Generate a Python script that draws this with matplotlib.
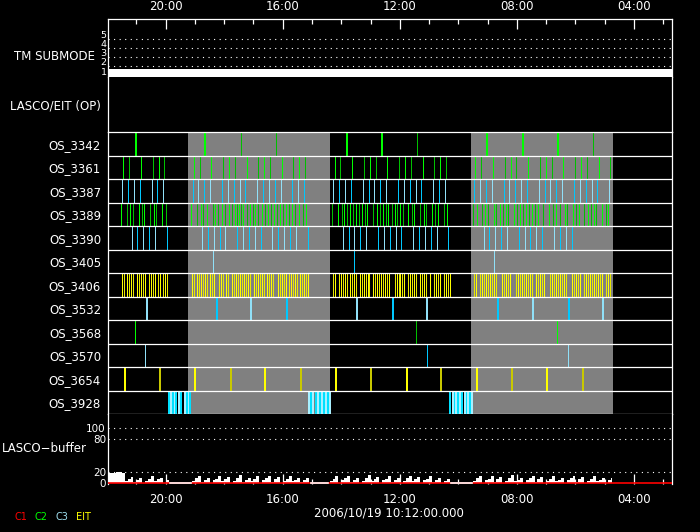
import numpy as np
import matplotlib
matplotlib.use('Agg')
import matplotlib.pyplot as plt
from matplotlib.ticker import MultipleLocator, FuncFormatter

# time runs backwards (decimal hours of the day)
t_start = 21.97
t_end = 2.72
gray_spans = [(19.24, 14.40), (9.57, 4.73)]

tm_times = [21.97, 2.72]
tm_mode = [1, 1]

os_names = ['OS_3342', 'OS_3361', 'OS_3387', 'OS_3389', 'OS_3390', 'OS_3405',
            'OS_3406', 'OS_3532', 'OS_3568', 'OS_3570', 'OS_3654', 'OS_3928']

os_3342_wide = [21.03, 18.64, 13.82, 12.62, 9.01, 7.80, 6.61]
os_3342_thin = [17.41, 16.22, 11.41, 5.40]

os_3361 = [21.45, 21.24, 20.83, 20.42, 20.22, 20.05, 19.02, 18.82, 18.44, 18.03,
           17.83, 17.62, 17.21, 16.84, 16.63, 16.43, 16.02, 15.64, 15.44, 15.23,
           14.21, 14.04, 13.63, 13.22, 13.01, 12.81, 12.43, 12.02, 11.82, 11.61,
           11.20, 10.83, 10.62, 10.42, 9.43, 9.22, 8.81, 8.40, 8.20, 8.03,
           7.62, 7.21, 7.00, 6.80, 6.42, 6.01, 5.81, 5.60, 5.19, 4.82]

os_3387 = [21.48, 21.28, 21.07, 20.87, 20.46, 20.29, 20.08, 19.06, 18.89, 18.68,
           18.48, 18.07, 17.86, 17.66, 17.45, 17.28, 16.87, 16.67, 16.46, 16.26,
           16.05, 15.68, 15.47, 15.27, 14.28, 14.07, 13.87, 13.66, 13.25, 13.05,
           12.88, 12.67, 12.47, 12.06, 11.85, 11.65, 11.44, 11.27, 10.86, 10.66,
           10.45, 9.46, 9.26, 9.05, 8.85, 8.44, 8.27, 8.06, 7.86, 7.65,
           7.24, 7.04, 6.87, 6.66, 6.46, 6.05, 5.84, 5.64, 5.43, 5.26, 4.85]

os_3389 = [21.51, 21.31, 21.21, 21.10, 20.90, 20.80, 20.73, 20.52, 20.39, 20.32,
           20.12, 19.98, 19.13, 18.92, 18.78, 18.72, 18.58, 18.37, 18.31, 18.20,
           18.07, 17.96, 17.83, 17.73, 17.62, 17.55, 17.49, 17.42, 17.35, 17.21,
           17.11, 17.01, 16.94, 16.84, 16.70, 16.60, 16.50, 16.39, 16.29, 16.19,
           16.09, 15.98, 15.88, 15.78, 15.68, 15.57, 15.44, 15.30, 15.20, 14.31,
           14.11, 13.97, 13.90, 13.80, 13.70, 13.59, 13.49, 13.39, 13.29, 13.18,
           13.12, 12.91, 12.78, 12.67, 12.57, 12.47, 12.40, 12.26, 12.16, 12.09,
           12.00, 11.89, 11.72, 11.58, 11.51, 11.31, 11.17, 11.10, 10.90, 10.79,
           10.69, 10.49, 10.38, 9.50, 9.36, 9.19, 9.09, 8.98, 8.78, 8.71,
           8.57, 8.47, 8.37, 8.30, 8.10, 7.99, 7.89, 7.79, 7.69, 7.58,
           7.48, 7.38, 7.28, 7.11, 6.90, 6.77, 6.66, 6.53, 6.36, 6.29,
           6.08, 5.98, 5.88, 5.71, 5.57, 5.47, 5.37, 5.30, 5.09, 4.96, 4.89]

os_3390 = [21.14, 20.97, 20.76, 20.56, 20.35, 19.94, 18.75, 18.54, 18.34, 18.13,
           17.96, 17.55, 17.35, 17.14, 16.94, 16.74, 16.36, 16.16, 15.95, 15.75,
           15.54, 15.13, 13.94, 13.73, 13.56, 13.35, 13.15, 12.74, 12.54, 12.33,
           12.13, 11.95, 11.54, 11.34, 11.14, 10.93, 10.73, 10.35, 9.12, 8.95,
           8.75, 8.54, 8.34, 7.93, 7.72, 7.55, 7.35, 7.14, 6.73, 6.53, 6.32, 6.12]

os_3405 = [18.37, 13.56, 8.78]

os_3406 = [21.48, 21.41, 21.31, 21.24, 21.17, 21.10, 20.97, 20.90, 20.83, 20.76,
           20.69, 20.56, 20.49, 20.42, 20.35, 20.25, 20.18, 20.08, 20.01, 19.94,
           19.09, 19.02, 18.92, 18.85, 18.78, 18.72, 18.65, 18.58, 18.48, 18.41,
           18.34, 18.17, 18.10, 18.03, 17.93, 17.86, 17.73, 17.66, 17.59, 17.52,
           17.45, 17.38, 17.32, 17.25, 17.18, 17.11, 16.97, 16.91, 16.84, 16.77,
           16.70, 16.63, 16.53, 16.46, 16.39, 16.33, 16.16, 16.09, 16.02, 15.95,
           15.88, 15.78, 15.71, 15.64, 15.57, 15.51, 15.40, 15.34, 15.27, 15.20,
           15.13, 14.28, 14.21, 14.07, 14.00, 13.94, 13.87, 13.80, 13.70, 13.63,
           13.56, 13.49, 13.35, 13.29, 13.22, 13.15, 13.08, 13.05, 12.91, 12.84,
           12.78, 12.71, 12.64, 12.57, 12.50, 12.43, 12.37, 12.16, 12.09, 12.02,
           12.00, 11.93, 11.86, 11.73, 11.66, 11.59, 11.52, 11.45, 11.32, 11.25,
           11.18, 11.11, 10.98, 10.84, 10.77, 10.70, 10.63, 10.50, 10.43, 10.36,
           10.29, 9.47, 9.41, 9.27, 9.20, 9.13, 9.06, 9.00, 8.93, 8.86,
           8.79, 8.72, 8.52, 8.45, 8.38, 8.31, 8.24, 8.04, 7.97, 7.90,
           7.83, 7.77, 7.70, 7.63, 7.56, 7.49, 7.36, 7.29, 7.22, 7.15,
           7.08, 6.88, 6.81, 6.74, 6.67, 6.61, 6.54, 6.47, 6.40, 6.33,
           6.13, 6.06, 5.99, 5.92, 5.85, 5.72, 5.65, 5.58, 5.51, 5.45,
           5.38, 5.31, 5.24, 5.17, 5.10, 4.97, 4.90, 4.83]

os_3532 = [20.65, 18.26, 17.07, 15.85, 13.45, 12.25, 11.06, 8.63, 7.44, 6.23, 5.05]
os_3568 = [21.04, 11.44, 6.64]
os_3570 = [20.69, 11.07, 6.25]
os_3654 = [21.40, 20.18, 18.99, 17.78, 16.59, 15.39, 14.17, 12.98,
           11.77, 10.58, 9.37, 8.16, 6.97, 5.76]
os_3928 = [19.90, 19.83, 19.76, 19.69, 19.63, 19.56, 19.49, 19.35, 19.28, 19.22, 19.17,
           15.09, 15.02, 14.95, 14.88, 14.79, 14.72, 14.65, 14.58, 14.52, 14.45, 14.37,
           10.27, 10.20, 10.13, 10.07, 10.00, 9.93, 9.86, 9.79, 9.72, 9.66, 9.59, 9.53]

# LASCO buffer fill level, sampled every 6 minutes from 21:57 back to 04:45
buf_values = [18, 19, 19, 20, 21, 19,
              3, 7, 11, 2, 6, 9, 0, 4, 8, 12, 3, 7, 10, 0, 5,
              0, 0, 0, 0, 0, 0, 0, 0,
              4, 9, 13, 2, 6, 10, 0, 5, 8, 12, 3, 7, 11, 0, 4, 9, 14, 2, 6, 10,
              3, 8, 12, 0, 5, 9, 13, 2, 7, 11, 0, 4, 8, 12, 3, 6, 10, 2, 5, 9,
              0, 0, 0, 0, 0, 0, 0,
              3, 8, 12, 0, 5, 9, 13, 2, 6, 10, 0, 4, 9, 15, 3, 7, 11, 0, 5, 8,
              12, 2, 6, 10, 0, 4, 9, 13, 3, 7, 11, 0, 5, 8, 12, 2, 6, 9, 0, 4, 8,
              0, 0, 0, 0, 0, 0, 0, 0,
              4, 9, 12, 0, 5, 8, 13, 2, 7, 11, 0, 4, 9, 14, 3, 6, 10, 0, 5, 9,
              12, 2, 7, 11, 0, 4, 8, 13, 3, 6, 10, 0, 5, 9, 12, 2, 7, 11, 0, 4,
              8, 12, 3, 6, 10, 0, 5, 9]
buf_times = np.linspace(21.95, 4.75, len(buf_values))

legend_names = ['C1', 'C2', 'C3', 'EIT']
legend_colors = ['#ff0000', '#00ff00', '#a0e0f0', '#ffff00']

GREEN = ['#00ff00', '#00c000']
CYAN = ['#90e0f8', '#00c8ff']
YELLOW = ['#ffff00', '#c8c800']
THIN = 0.6

rows = [
    (os_3342_thin, GREEN[1:], THIN),
    (os_3361, GREEN, THIN),
    (os_3387, CYAN, THIN),
    (os_3389, GREEN, THIN),
    (os_3390, CYAN, THIN),
    (os_3405, CYAN, THIN),
    (os_3406, ['#ffff00', '#e8e800'], THIN),
    (os_3532, CYAN, 1.4),
    (os_3568, GREEN, THIN),
    (os_3570, CYAN, THIN),
    (os_3654, YELLOW, 1.4),
    (os_3928, ['#00e0ff', '#a8f0ff'], 1.4),
]

plt.rcParams['font.family'] = 'DejaVu Sans'
plt.rcParams['font.size'] = 8.5

W, H = 700, 532
fig = plt.figure(figsize=(7, 5.32), dpi=100, facecolor='black')


def box(top, bottom):
    return [108 / W, 1 - bottom / H, (671.5 - 108) / W, (bottom - top) / H]


ax_tm = fig.add_axes(box(19, 77))
ax_op = fig.add_axes(box(77, 132.3))
ax_os = fig.add_axes(box(132.3, 414))
ax_buf = fig.add_axes(box(414, 483.5))

for ax in (ax_tm, ax_op, ax_os, ax_buf):
    ax.set_facecolor('black')
    ax.set_xlim(t_start, t_end)
    for s in ax.spines.values():
        s.set_color('white')
        s.set_linewidth(0.9)
    ax.tick_params(axis='y', length=0, colors='white')
    ax.tick_params(axis='x', which='both', colors='white', direction='in',
                   bottom=False, top=False, labelbottom=False, labeltop=False)
    ax.xaxis.set_major_locator(MultipleLocator(4))
    ax.xaxis.set_minor_locator(MultipleLocator(1))
    ax.xaxis.set_major_formatter(FuncFormatter(lambda v, p: '%02d:00' % round(v)))

# TM submode
ax_tm.spines['bottom'].set_visible(False)
ax_tm.set_ylim(0.35, 6.66)
ax_tm.fill_between(tm_times, 0.35, np.array(tm_mode) + 0.22, color='white', lw=0)
ax_tm.hlines([1.5, 2.5, 3.5, 4.5], t_start, t_end, colors='white',
             linestyles=(0, (1, 4)), lw=0.8)
ax_tm.set_yticks([1, 2, 3, 4, 5])
ax_tm.tick_params(axis='y', pad=1, labelsize=6.8)
ax_tm.tick_params(axis='x', which='both', top=True, labeltop=True, labelsize=8.5,
                  pad=4, width=0.9)
ax_tm.tick_params(axis='x', which='major', length=7)
ax_tm.tick_params(axis='x', which='minor', length=3.5)

# LASCO/EIT (OP)
ax_op.spines['top'].set_visible(False)
ax_op.spines['bottom'].set_visible(False)
ax_op.set_ylim(0, 1)
ax_op.set_yticks([0.5], ['LASCO/EIT (OP)'])
ax_op.tick_params(axis='y', pad=5)

# OS rows
ax_os.set_ylim(12, 0)
for a, b in gray_spans:
    ax_os.axvspan(a, b, color='#808080', lw=0, zorder=0)
for r, (times, cols, lw) in enumerate(rows):
    colors = [cols[i % len(cols)] for i in range(len(times))]
    ax_os.vlines(times, r, r + 1, colors=colors, lw=lw, antialiased=False, zorder=2)
ax_os.vlines(os_3342_wide, 0, 1, colors='#00ff00', lw=1.4, antialiased=False, zorder=2)
ax_os.hlines(np.arange(1, 12), t_start, t_end, colors='white', lw=0.9, zorder=3)
ax_os.set_yticks(np.arange(12) + 0.5, os_names)
ax_os.tick_params(axis='y', pad=5)

# LASCO buffer
ax_buf.spines['top'].set_visible(False)
ax_buf.spines['bottom'].set_visible(False)
ax_buf.set_ylim(-0.8, 126)
buf = np.array(buf_values, dtype=float)
ax_buf.fill_between(buf_times, 0, buf, step='mid', color='white', lw=0)
ax_buf.axhline(0, color='#ff0000', lw=1.2, zorder=3)
ax_buf.plot(buf_times, np.where(buf == 0, 0, np.nan), color='white', lw=1.2, zorder=4)
ax_buf.hlines([20, 80, 100], t_start, t_end, colors='white',
              linestyles=(0, (1, 4)), lw=0.8)
ax_buf.set_yticks([0, 20, 80, 100])
ax_buf.tick_params(axis='y', pad=1.5, labelsize=7.5)
ax_buf.tick_params(axis='x', which='both', bottom=True, labelbottom=True,
                   labelsize=8.5, pad=7, width=0.9)
ax_buf.tick_params(axis='x', which='major', length=7)
ax_buf.tick_params(axis='x', which='minor', length=3.5)

fig.text(95 / W, 1 - 57 / H, 'TM SUBMODE', color='white', ha='right', va='center')
fig.text(87 / W, 1 - 449 / H, 'LASCO\u2212buffer', color='white', ha='right', va='center')
fig.text(389 / W, 1 - 513 / H, '2006/10/19 10:12:00.000', color='white',
         ha='center', va='center')
for name, col, x in zip(legend_names, legend_colors, [20.5, 41, 62, 83]):
    fig.text(x / W, 1 - 517 / H, name, color=col, ha='center', va='center', fontsize=7)

fig.savefig('out.png', dpi=100, facecolor='black')
